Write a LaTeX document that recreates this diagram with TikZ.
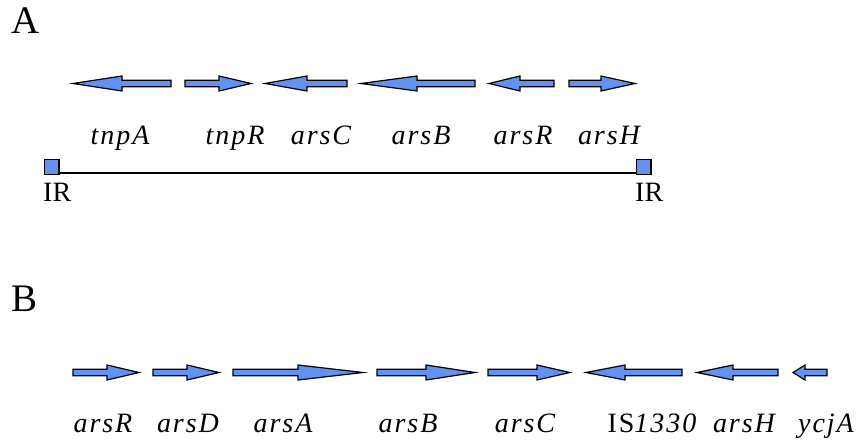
\documentclass[tikz,border=0pt]{standalone}
\usepackage{fontspec}
\setmainfont{Liberation Serif}
\newfontfamily\genefont[LetterSpace=7]{Liberation Serif}
\definecolor{genefill}{RGB}{98,146,240}

% gene arrow pointing right: start, head base, tip, centre line
\newcommand{\generight}[4]{%
  \draw[genebody] (#1,#4-3.2) -- (#2,#4-3.2) -- (#2,#4-7.5) -- (#3,#4)
    -- (#2,#4+7.5) -- (#2,#4+3.2) -- (#1,#4+3.2) -- cycle;}
% gene arrow pointing left: tip, head base, end, centre line
\newcommand{\geneleft}[4]{%
  \draw[genebody] (#3,#4-3.2) -- (#2,#4-3.2) -- (#2,#4-7.5) -- (#1,#4)
    -- (#2,#4+7.5) -- (#2,#4+3.2) -- (#3,#4+3.2) -- cycle;}

\tikzset{
  genebody/.style={draw=black, fill=genefill, line width=1.2pt, line join=miter},
  genelabel/.style={anchor=base, inner sep=0pt, font=\genefont\fontsize{28}{30}\selectfont\itshape},
  panel/.style={anchor=base west, inner sep=0pt, font=\fontsize{39}{42}\selectfont},
  irlabel/.style={anchor=base west, inner sep=0pt, font=\fontsize{28}{30}\selectfont},
  irbox/.style={draw=black, fill=genefill, line width=1.2pt, minimum size=14.8pt, inner sep=0pt},
  seqline/.style={draw=black, line width=1.6pt}
}

\begin{document}
\begin{tikzpicture}[x=1pt, y=-1pt]
\useasboundingbox (0,0) rectangle (858,443);

% panel A
\node[panel] (pA) at (11,34) {A};

\geneleft{73}{122}{171}{83.5}
\generight{185}{219}{251}{83.5}
\geneleft{265}{307}{347}{83.5}
\geneleft{361}{417}{475}{83.5}
\geneleft{489}{520}{554}{83.5}
\generight{569}{601}{635}{83.5}

\node[genelabel] (a1) at (120,145) {tnpA};
\node[genelabel] (a2) at (235,145) {tnpR};
\node[genelabel] (a3) at (321,145) {arsC};
\node[genelabel] (a4) at (421,145) {arsB};
\node[genelabel] (a5) at (523,145) {arsR};
\node[genelabel] (a6) at (609,145) {arsH};

% transposon with inverted repeats
\node[irbox] (irL) at (51.5,167) {};
\node[irbox] (irR) at (643.5,167) {};
\draw[seqline] ([yshift=1.9pt]irL.south east) -- ([yshift=1.9pt]irR.south west);
\node[irlabel] (irLt) at (43,202) {IR};
\node[irlabel] (irRt) at (635,202) {IR};

% panel B
\node[panel] (pB) at (11,311) {B};

\generight{73}{107}{139}{372.5}
\generight{153}{187}{219}{372.5}
\generight{233}{298}{363}{372.5}
\generight{377}{426}{475}{372.5}
\generight{488}{537}{570}{372.5}
\geneleft{586}{625}{682}{372.5}
\geneleft{697}{733}{778}{372.5}
\geneleft{793}{805}{827}{372.5}

\node[genelabel] (b1) at (103,432) {arsR};
\node[genelabel] (b2) at (188,432) {arsD};
\node[genelabel] (b3) at (283,432) {arsA};
\node[genelabel] (b4) at (408,432) {arsB};
\node[genelabel] (b5) at (525,432) {arsC};
\node[genelabel] (b6) at (652,432) {\upshape IS\itshape 1330};
\node[genelabel] (b7) at (744,432) {arsH};
\node[genelabel] (b8) at (826,432) {ycjA};
\end{tikzpicture}
\end{document}
